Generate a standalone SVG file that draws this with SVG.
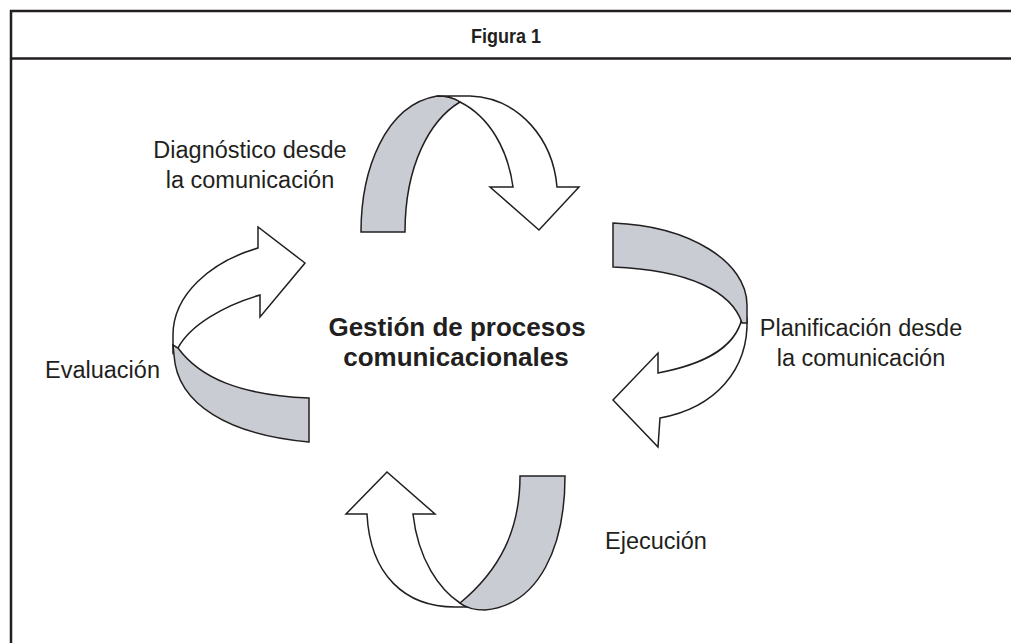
<svg xmlns="http://www.w3.org/2000/svg" width="1011" height="643" viewBox="0 0 1011 643">
<style>
.frame{fill:none;stroke:#231f20;stroke-width:2.5}
.w{fill:#ffffff;stroke:#231f20;stroke-width:1.5;stroke-linejoin:miter}
.g{fill:#caccd3;stroke:#231f20;stroke-width:1.5;stroke-linejoin:miter}
.t{font-family:"Liberation Sans",Arial,sans-serif;font-size:23.5px;fill:#231f20}
.b{font-family:"Liberation Sans",Arial,sans-serif;font-weight:bold;fill:#231f20}
</style>
<rect width="1011" height="643" fill="#ffffff"/>
<g id="frame">
<rect class="frame" x="11" y="11" width="1012" height="645"/>
<line class="frame" x1="11" y1="58.5" x2="1011" y2="58.5"/>
<text class="b" x="506" y="43" font-size="19.5" text-anchor="middle" textLength="70" lengthAdjust="spacingAndGlyphs">Figura 1</text>
</g>
<g id="center">
<text class="b" x="457" y="336" font-size="26" text-anchor="middle">Gestión de procesos</text>
<text class="b" x="456" y="366" font-size="26" text-anchor="middle">comunicacionales</text>
</g>
<g id="connectors">
<g id="arrow-top">
<path class="w" d="M437,96 L470,96 C520,98 553,140 557,187 L579,187 L539,230 L490,187 L513,187 C508,150 490,117 460,102 C454,98 446,96 437,96 Z"/>
<path class="g" d="M361,232 C361,170 385,105 437,96 C446,96 454,98 460,102 C430,120 405,165 405,232 Z"/>
</g>
<g id="arrow-right">
<path class="w" d="M747,318 C749,370 715,408 660,418 L658,447 L613,400 L658,353 L658,373 C700,365 735,350 742,318 Z"/>
<path class="g" d="M613,223 C690,226 747,262 747,305 L747,323 L742,323 C732,292 690,270 613,267 Z"/>
</g>
<g id="arrow-left">
<path class="w" d="M173,353 L173,335 C173,295 210,262 258,248 L258,227 L305,263 L260,317 L260,295 C225,305 190,325 178,348 Z"/>
<path class="g" d="M178,348 C200,378 240,395 309,398 L309,442 C230,435 177,405 174,355 L173,345 Z"/>
</g>
<g id="arrow-bottom">
<path class="w" d="M367,514 C370,575 405,607 455,607 L470,607 C465,606 462,605 460,603 C440,590 418,560 413,514 L435,514 L387,472 L346,514 Z"/>
<path class="g" d="M520,476 L565,476 C565,545 540,605 485,610 C475,610 465,607 460,603 C500,570 520,530 520,476 Z"/>
</g>
</g>
<g id="node-diagnostico">
<text class="t" x="250" y="158" text-anchor="middle">Diagnóstico desde</text>
<text class="t" x="250" y="188" text-anchor="middle">la comunicación</text>
</g>
<g id="node-planificacion">
<text class="t" x="861" y="336" text-anchor="middle">Planificación desde</text>
<text class="t" x="861" y="366" text-anchor="middle">la comunicación</text>
</g>
<g id="node-ejecucion">
<text class="t" x="605" y="549">Ejecución</text>
</g>
<g id="node-evaluacion">
<text class="t" x="45" y="378">Evaluación</text>
</g>
</svg>
